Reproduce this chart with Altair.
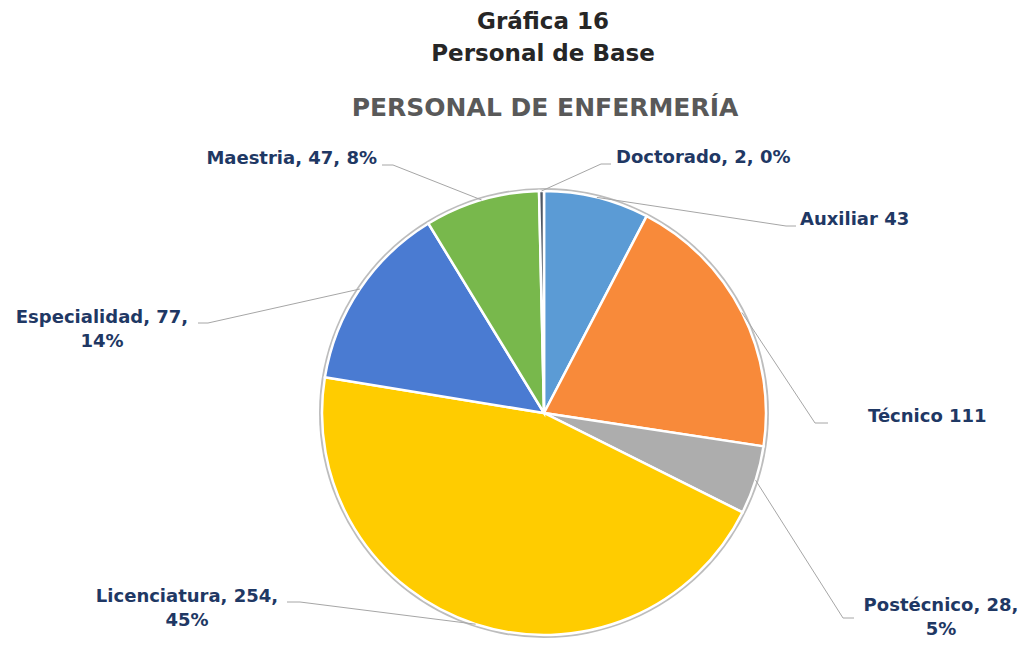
import math
import altair as alt
import pandas as pd

# ---- data ----
categories = ["Auxiliar", "Técnico", "Postécnico", "Licenciatura", "Especialidad", "Maestria", "Doctorado"]
values = [43, 111, 28, 254, 77, 47, 2]
colors = ["#5B9BD5", "#F88A3A", "#ADADAD", "#FFCC00", "#4A7BD2", "#78B84C", "#4E5866"]
label_formats = ["{c} {v}", "{c} {v}", "{c}, {v},\n{p}%", "{c}, {v},\n{p}%",
                 "{c}, {v},\n{p}%", "{c}, {v}, {p}%", "{c}, {v}, {p}%"]
title_lines = ["Gráfica 16", "Personal de Base"]
subtitle = "PERSONAL DE ENFERMERÍA"

# ---- layout (view pixels) ----
W, H = 1013, 630
CX, CY, R = 536, 405, 222
# elbow point, line end, label anchor (first line), alignment
label_layout = {
    "Doctorado":    ((593, 156), (603, 156), (608, 150), "left"),
    "Auxiliar":     ((778, 218), (788, 218), (792, 212), "left"),
    "Maestria":     ((385, 157), (374, 157), (369, 151), "right"),
    "Especialidad": ((200, 315), (190, 315), (94, 310), "center"),
    "Técnico":      ((807, 415), (820, 415), (860, 409), "left"),
    "Postécnico":   ((835, 610), (846, 610), (933, 598), "center"),
    "Licenciatura": ((292, 594), (279, 594), (179, 589), "center"),
}

total = sum(values)
df = pd.DataFrame({"category": categories, "value": values, "idx": range(len(values))})

# leader lines and labels computed from slice mid angles
line_rows, label_rows = [], []
cum = 0
for c, v in zip(categories, values):
    mid = (cum + v / 2) / total * 2 * math.pi
    cum += v
    ex, ey = CX + R * math.sin(mid), CY - R * math.cos(mid)
    elbow, end, anchor, align = label_layout[c]
    for k, (px, py) in enumerate([(ex, ey), elbow, end]):
        line_rows.append({"category": c, "ord": k, "x": px, "y": py})
    fmt = label_formats[categories.index(c)]
    label_rows.append({"category": c, "x": anchor[0], "y": anchor[1], "align": align,
                       "text": fmt.format(c=c, v=v, p=round(v / total * 100))})
lines_df = pd.DataFrame(line_rows)
labels_df = pd.DataFrame(label_rows)

titles_df = pd.DataFrame({
    "text": title_lines + [subtitle],
    "x": [535, 535, 537],
    "y": [14, 46, 100],
    "size": [23, 23, 25],
    "color": ["#262626", "#262626", "#595959"],
})

xs = alt.Scale(domain=[0, W], nice=False, zero=False)
ys = alt.Scale(domain=[0, H], reverse=True, nice=False, zero=False)
FONT = "DejaVu Sans"

ring = alt.Chart(pd.DataFrame({"a": [1]})).mark_arc(
    radius=R + 3, theta=0, theta2=2 * math.pi, color="#BDBDBD"
).encode(x=alt.value(CX), y=alt.value(CY))

pie = alt.Chart(df).mark_arc(radius=R, stroke="white", strokeWidth=2.5).encode(
    theta=alt.Theta("value:Q", stack=True),
    color=alt.Color("category:N", scale=alt.Scale(domain=categories, range=colors), legend=None),
    order=alt.Order("idx:Q"),
    x=alt.value(CX), y=alt.value(CY),
)

leaders = alt.Chart(lines_df).mark_line(color="#A6A6A6", strokeWidth=1).encode(
    x=alt.X("x:Q", scale=xs, axis=None),
    y=alt.Y("y:Q", scale=ys, axis=None),
    detail="category:N",
    order="ord:Q",
)

def label_layer(align):
    return alt.Chart(labels_df).transform_filter(alt.datum.align == align).mark_text(
        align=align, baseline="middle", font=FONT, fontWeight="bold", fontSize=18,
        color="#1F3864", lineBreak="\n", lineHeight=24,
    ).encode(
        x=alt.X("x:Q", scale=xs, axis=None),
        y=alt.Y("y:Q", scale=ys, axis=None),
        text="text:N",
    )

titles = alt.Chart(titles_df).mark_text(
    align="center", baseline="middle", font=FONT, fontWeight="bold"
).encode(
    x=alt.X("x:Q", scale=xs, axis=None),
    y=alt.Y("y:Q", scale=ys, axis=None),
    text="text:N",
    size=alt.Size("size:Q", scale=None),
    color=alt.Color("color:N", scale=None),
)

chart = alt.layer(
    ring, pie, leaders, label_layer("left"), label_layer("right"), label_layer("center"), titles
).properties(
    width=W, height=H, padding=0, autosize=alt.AutoSizeParams(type="none"), background="white"
).configure_view(stroke=None)

chart.save("out.html", embed_options={"renderer": "svg", "actions": False})
